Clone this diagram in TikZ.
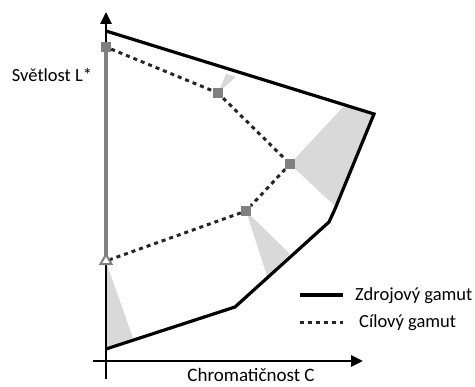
\documentclass[tikz,border=0pt]{standalone}
\usepackage{fontspec}
\setmainfont{Carlito}
\usetikzlibrary{shapes.geometric,arrows.meta}
\definecolor{mk}{HTML}{808080}
\definecolor{wedge}{HTML}{D9D9D9}
\tikzset{
  src/.style={line width=3.2pt,black,line join=miter},
  tgt/.style={line width=3pt,black!85,dash pattern=on 4pt off 4pt},
  sq/.style={rectangle,fill=mk,minimum size=10pt,inner sep=0pt},
  tri/.style={regular polygon,regular polygon sides=3,draw=mk,fill=white,line width=2pt,minimum size=13pt,inner sep=0pt},
  wdg/.style={fill=wedge,draw=none},
  lbl/.style={font=\fontsize{18.5}{20}\selectfont,inner sep=0pt},
  axis/.style={line width=2.8pt,black,-{Triangle[length=12pt,width=11pt]}}
}
\begin{document}
\begin{tikzpicture}[x=1pt,y=-1pt]
\useasboundingbox (0,0) rectangle (475,387);
% coordinates of source gamut
\coordinate (s1) at (106,31);
\coordinate (s2) at (374,114);
\coordinate (s3) at (335,209);
\coordinate (s4) at (329,222);
\coordinate (s5) at (235,307);
\coordinate (s6) at (106,349);
% wedges
\fill[wdg] (218,93) -- (226,74) -- (236,77) -- cycle;
\fill[wdg] (290,164) -- (345,105) -- (s2) -- (335,206) -- cycle;
\fill[wdg] (246,211) -- (290,254) -- (267,276) -- cycle;
\fill[wdg] (106,262) -- (133,338) -- (106,347) -- cycle;
% axes
\coordinate (ab) at (106,379);
\coordinate (at) at (106,12);
\coordinate (al) at (93,361);
\coordinate (ar) at (363,361);
\draw[axis] (ab) -- (at);
\draw[axis] (al) -- (ar);
\draw[line width=4pt,mk] (106,47) -- (106,258);
% source gamut
\draw[src] (s1) -- (s2) -- (s3) -- (s4) -- (s5) -- (s6);
% target gamut
\node[sq] (t1) at (106,47) {};
\node[sq] (t2) at (218,93) {};
\node[sq] (t3) at (290,164) {};
\node[sq] (t4) at (246,211) {};
\node[tri] (t5) at (106,261) {};
\draw[tgt] (t1) -- (t2) -- (t3) -- (t4) -- (t5);
% labels
\node[lbl] (ly) at (52,75) {Světlost L*};
\node[lbl,anchor=base,font=\fontsize{19}{21}\selectfont] (lx) at (251,382) {Chromatičnost C};
% legend
\coordinate (l1a) at (300,295);
\coordinate (l1b) at (343,295);
\coordinate (l2a) at (300,323);
\coordinate (l2b) at (343,323);
\draw[src] (l1a) -- (l1b);
\draw[tgt] (l2a) -- (l2b);
\node[lbl,anchor=west] (lg1) at (355,296) {Zdrojový gamut};
\node[lbl,anchor=west] (lg2) at (359,323) {Cílový gamut};
\end{tikzpicture}
\end{document}
